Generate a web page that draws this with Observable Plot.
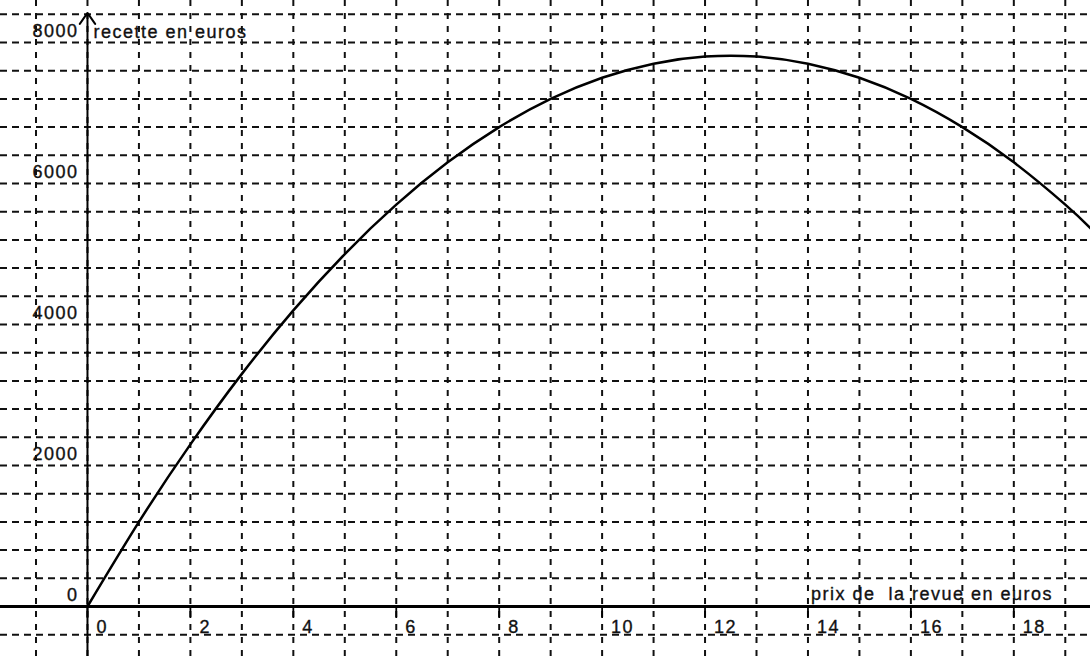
<!DOCTYPE html>
<html>
<head>
<meta charset="utf-8">
<script src="https://cdn.jsdelivr.net/npm/d3@7"></script>
<script src="https://cdn.jsdelivr.net/npm/@observablehq/plot@0.6"></script>
<style>
  html, body { margin: 0; padding: 0; background: #fff; overflow: hidden; }
  #chart svg { display: block; }
</style>
</head>
<body>
<div id="chart"></div>
<script>
// Data
const prix = [0, 1, 2, 3, 4, 5, 6, 7, 8, 9, 10, 11, 12, 13, 14, 15, 16, 17, 18, 19, 19.5];
const recette = [0, 1200, 2300, 3300, 4200, 5000, 5700, 6300, 6800, 7200, 7500, 7700, 7800, 7800, 7700, 7500, 7200, 6800, 6300, 5700, 5360];
const xTicks = [0, 2, 4, 6, 8, 10, 12, 14, 16, 18];
const yTicks = [0, 2000, 4000, 6000, 8000];
const xGrid = d3.range(-1, 20, 1);
const yGrid = d3.range(-400, 8800, 400);
const xDomain = [-1.69, 19.49];
const yDomain = [-709, 8596];
const yAxisExtent = [-709, 8420];
const xTitle = "prix de\u00a0 la revue en euros";
const yTitle = "recette en euros";

const data = prix.map((p, i) => ({ prix: p, recette: recette[i] }));
const font = "'Liberation Sans', Arial, sans-serif";
const textStyle = { fontSize: 18, fill: "#111", stroke: "#111", strokeWidth: 0.35 };

const chart = Plot.plot({
  width: 1090,
  height: 656,
  margin: 0,
  x: { domain: xDomain, axis: null },
  y: { domain: yDomain, axis: null },
  style: { fontFamily: font, background: "#fff" },
  marks: [
    Plot.ruleY(yGrid, { stroke: "#111", strokeWidth: 2, strokeDasharray: "7,5" }),
    Plot.ruleX(xGrid, { stroke: "#111", strokeWidth: 2, strokeDasharray: "6,7" }),
    Plot.ruleY([0], { stroke: "#000", strokeWidth: 2.8 }),
    Plot.ruleX(xTicks, { y1: 0, y2: -170, stroke: "#000", strokeWidth: 1.8 }),
    Plot.arrow([0], { x1: 0, x2: 0, y1: yAxisExtent[0], y2: yAxisExtent[1], stroke: "#000", strokeWidth: 2, headLength: 10, headAngle: 70 }),
    Plot.line(data, { x: "prix", y: "recette", stroke: "#000", strokeWidth: 2.5, curve: "natural" }),
    Plot.text(yTicks, { x: 0, y: d => d, text: d => String(d), dx: -9, dy: -11, textAnchor: "end", ...textStyle }),
    Plot.text(xTicks, { x: d => d, y: 0, text: d => String(d), dx: 9, dy: 21, textAnchor: "start", ...textStyle }),
    Plot.text([yTitle], { x: 0, y: 8000, text: d => d, dx: 6, dy: -10, textAnchor: "start", ...textStyle }),
    Plot.text([xTitle], { x: 14, y: 0, text: d => d, dx: 3, dy: -12, textAnchor: "start", ...textStyle })
  ]
});
chart.querySelectorAll("text").forEach(t => t.setAttribute("letter-spacing", "1.5"));
document.getElementById("chart").appendChild(chart);
</script>
</body>
</html>
